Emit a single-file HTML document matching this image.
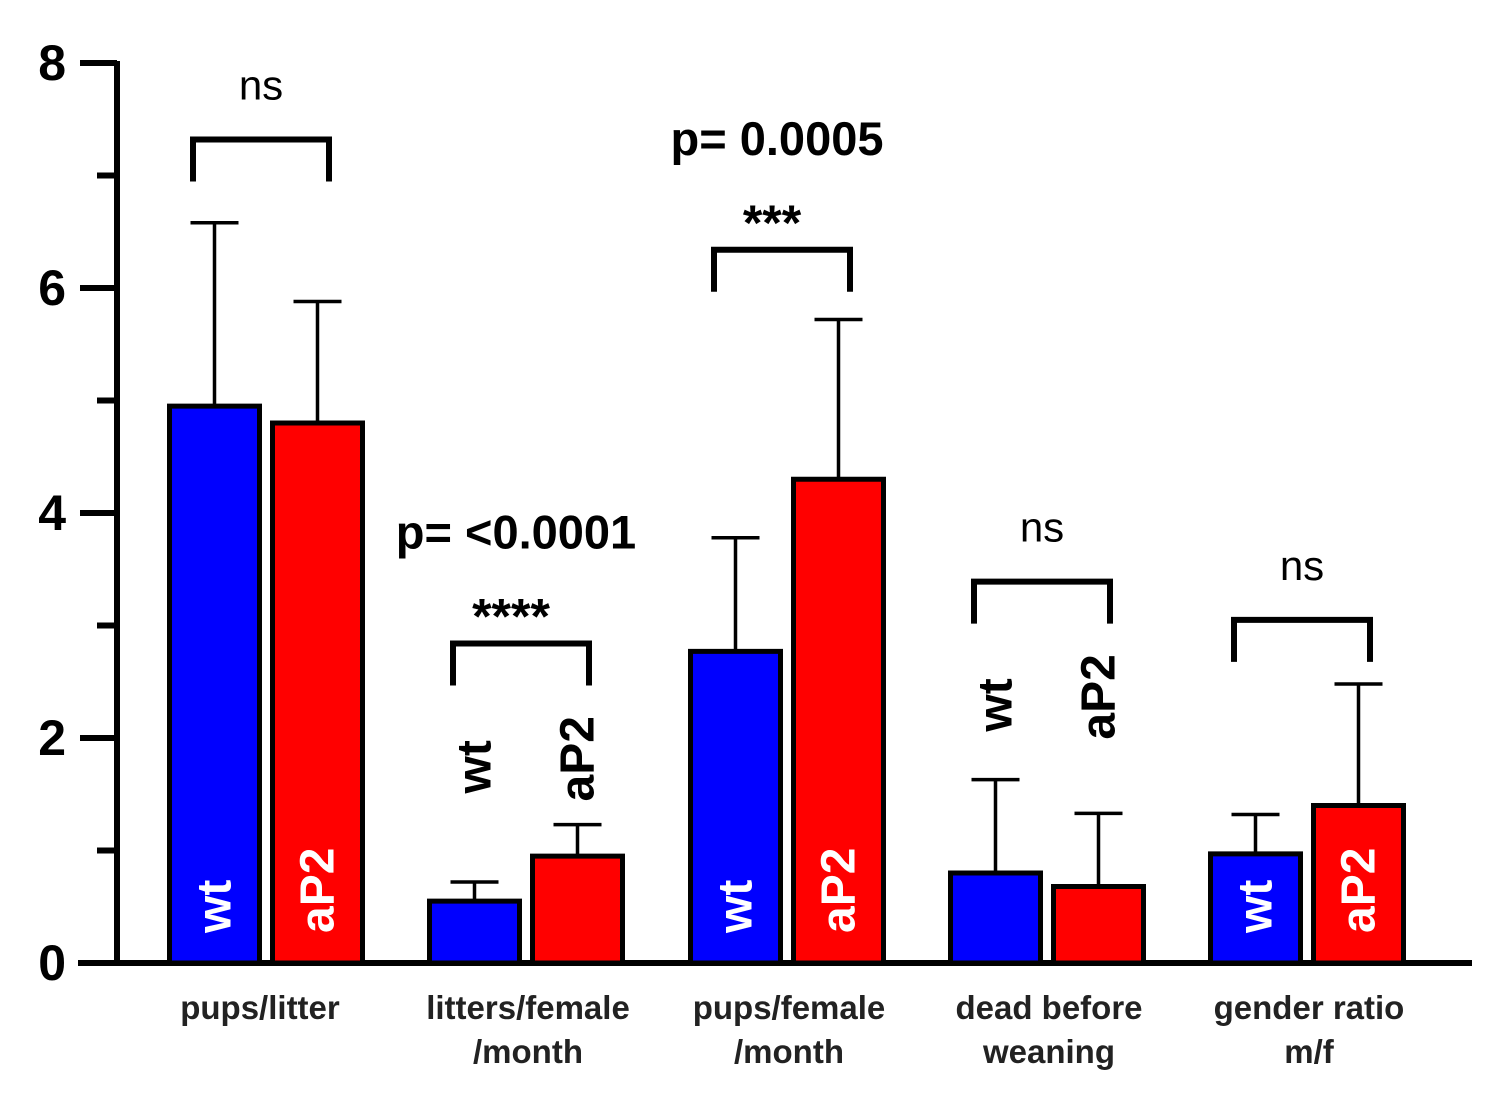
<!DOCTYPE html>
<html><head><meta charset="utf-8"><style>
html,body{margin:0;padding:0;background:#fff}
svg{display:block;font-family:"Liberation Sans",Arial,sans-serif}
</style></head><body>
<svg id="chart" width="1495" height="1102" viewBox="0 0 1495 1102"></svg>
<script>
const categories=[["pups/litter"],["litters/female","/month"],["pups/female","/month"],["dead before","weaning"],["gender ratio","m/f"]];
const wtValues=[4.95,0.55,2.77,0.8,0.97];
const wtErrors=[6.58,0.72,3.78,1.63,1.32];
const ap2Values=[4.8,0.95,4.3,0.68,1.4];
const ap2Errors=[5.88,1.23,5.72,1.33,2.48];
const yTicks=[0,2,4,6,8];
const bracketLevels=[7.32,2.84,6.34,3.39,3.05];
const sigLabels=["ns","****","***","ns","ns"];
const pLabels=["","p= <0.0001","p= 0.0005","",""];
const labelInside=[true,false,true,false,true];

const svg=document.getElementById('chart');
const NS='http://www.w3.org/2000/svg';
const y0=963,pxPerUnit=112.5;
const Y=v=>y0-v*pxPerUnit;
const groupX=[167,427,688,948,1208];
const barW=95,gap=8;
function el(t,a,p){const e=document.createElementNS(NS,t);for(const k in a)e.setAttribute(k,a[k]);(p||svg).appendChild(e);return e;}

const yAxis=el('line',{x1:117,y1:Y(0),x2:117,y2:Y(8)-2,stroke:'#000','stroke-width':6});


const xAxis=el('line',{x1:78,y1:Y(0),x2:1472,y2:Y(0),stroke:'#000','stroke-width':6});


for(let v=0;v<=8;v++){
  const major=v%2===0;
  const t=el('line',{x1:major?80:97,y1:Y(v),x2:117,y2:Y(v),stroke:'#000','stroke-width':6});
  
  
}
yTicks.forEach(v=>{
  const t=el('text',{x:66,y:Y(v)+17,'text-anchor':'end','font-size':50,'font-weight':'bold'});
  t.textContent=v;
  
  
});

function bar(x,v,err,color,label,inside,by){
  const r=el('rect',{x:x+2.5,y:Y(v),width:barW-5,height:Y(0)-Y(v),fill:color,stroke:'#000','stroke-width':5});
  
  
  const cx=x+barW/2;
  const e=el('path',{d:`M${cx} ${Y(v)}V${Y(err)}M${cx-24} ${Y(err)}H${cx+24}`,stroke:'#000','stroke-width':3.5,fill:'none'});
  
  
  let tx,ty,fill;
  if(inside){tx=cx+16;ty=Y(0)-30;fill='#fff';}
  else{tx=cx+16;ty=by+(label==='wt'?150:158);fill='#000';}
  const t=el('text',{x:tx,y:ty,transform:`rotate(-90 ${tx} ${ty})`,'font-size':48,'font-weight':'bold',fill:fill});
  t.textContent=label;
  
  
}

categories.forEach((c,i)=>{
  const gx=groupX[i];
  const bx1=gx+26,bx2=gx+barW+gap+59,by=Y(bracketLevels[i]);
  bar(gx,wtValues[i],wtErrors[i],'#0000ff','wt',labelInside[i],by);
  bar(gx+barW+gap,ap2Values[i],ap2Errors[i],'#ff0000','aP2',labelInside[i],by);
  const b=el('path',{d:`M${bx1} ${by+42}V${by}H${bx2}V${by+42}`,stroke:'#000','stroke-width':6,fill:'none'});
  
  
  const mid=(bx1+bx2)/2;
  const isNs=sigLabels[i]==='ns';
  const s=el('text',{x:isNs?mid:mid-10,y:isNs?by-40:by-10,'text-anchor':'middle','font-size':isNs?42:50,'font-weight':isNs?'normal':'bold'});
  s.textContent=sigLabels[i];
  
  
  if(pLabels[i]){
    const p=el('text',{x:mid-5,y:by-95,'text-anchor':'middle','font-size':47,'font-weight':'bold'});
    p.textContent=pLabels[i];
    
    
  }
  c.forEach((line,j)=>{
    const t=el('text',{x:i===0?gx+93:gx+barW+gap/2+2,y:1019+j*44,'text-anchor':'middle','font-size':33,'font-weight':'bold',fill:'#222'});
    t.textContent=line;
    
    
  });
});
</script>
</body></html>
